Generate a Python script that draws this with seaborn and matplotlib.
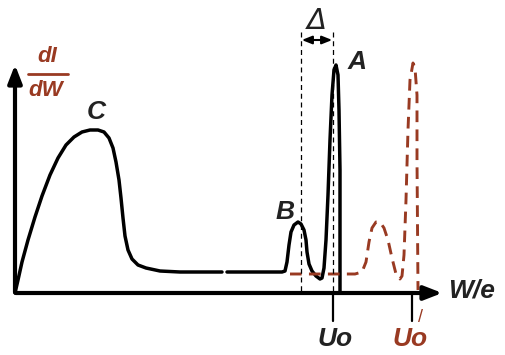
import pandas as pd
import matplotlib.pyplot as plt
import seaborn as sns

# curve points (x = W/e, y = dI/dW, screen-like units, y grows downwards)
c_x = [15, 18, 22, 28, 35, 42, 50, 58, 66, 74, 82, 90, 98, 104, 109, 113, 116, 119, 121, 123, 125, 128, 132, 138, 146, 160, 180, 200, 222]
c_y = [293, 280, 262, 240, 217, 196, 175, 158, 145, 137, 132, 130, 130, 132, 138, 148, 162, 180, 198, 218, 236, 250, 259, 265, 268, 271, 272, 272, 272]

ab_x = [227, 250, 270, 282, 285, 287, 289, 291, 294, 298, 301, 304, 306, 307, 309, 312, 316, 320, 322, 324, 326, 328, 330, 332, 334, 336, 338, 339, 340, 340]
ab_y = [272, 272, 272, 272, 271, 262, 245, 232, 225, 222, 224, 230, 240, 252, 264, 271, 276, 279, 278, 268, 240, 195, 140, 95, 70, 65, 75, 110, 170, 293]

shift_x = [290, 320, 355, 362, 366, 369, 372, 376, 380, 384, 388, 392, 396, 400, 402, 404, 406, 408, 410, 413, 415, 417, 417, 418]
shift_y = [274, 274, 274, 272, 262, 242, 228, 222, 222, 228, 240, 258, 274, 279, 276, 255, 200, 130, 80, 63, 68, 95, 160, 290]

delta_lines = [301, 333]
tick_pos = [333, 412]

brown = "#993a22"

sns.set_theme(style="white")
fig = plt.figure(figsize=(5.06, 3.55), dpi=100)
ax = fig.add_axes([0, 0, 1, 1])
ax.set_xlim(0, 506)
ax.set_ylim(355, 0)
ax.axis("off")

lw = 2.5
sns.lineplot(x=c_x, y=c_y, sort=False, estimator=None, color="black", linewidth=lw, ax=ax)
sns.lineplot(x=ab_x, y=ab_y, sort=False, estimator=None, color="black", linewidth=lw, ax=ax)
sns.lineplot(x=shift_x, y=shift_y, sort=False, estimator=None, color=brown, linewidth=2.1,
             linestyle=(0, (4, 2.5)), ax=ax)

# axes with arrows
ax.annotate("", xy=(15, 62), xytext=(15, 295),
            arrowprops=dict(arrowstyle="-|>,head_length=0.9,head_width=0.35", color="black", lw=3))
ax.annotate("", xy=(445, 293), xytext=(13, 293),
            arrowprops=dict(arrowstyle="-|>,head_length=0.9,head_width=0.35", color="black", lw=3))

# delta markers
for xv in delta_lines:
    ax.plot([xv, xv], [32, 293], color="black", lw=0.9, linestyle=(0, (4, 3)))
ax.annotate("", xy=(299, 40), xytext=(335, 40),
            arrowprops=dict(arrowstyle="<|-|>,head_length=0.5,head_width=0.2", color="black", lw=1.5))
ax.text(317, 21, "Δ", fontsize=21, style="italic", ha="center", va="center", color="#222222")

for xv in tick_pos:
    ax.plot([xv, xv], [293, 321], color="black", lw=1.6)

bold_it = dict(family="Liberation Sans", fontweight="bold", style="italic", fontsize=19)
ax.text(96, 112, "C", ha="center", va="center", color="#222222", **bold_it)
ax.text(285, 212, "B", ha="center", va="center", color="#222222", **bold_it)
ax.text(357, 62, "A", ha="center", va="center", color="#222222", **bold_it)
ax.text(472, 291, "W/e", ha="center", va="center", color="#222222", **bold_it)
ax.text(335, 339, "Uo", ha="center", va="center", color="#222222", **bold_it)
ax.text(410, 339, "Uo", ha="center", va="center", color=brown, **bold_it)
ax.text(421, 318, "/", ha="center", va="center", color=brown, family="Liberation Sans", fontsize=13)

frac = dict(family="Liberation Sans", fontweight="bold", style="italic", fontsize=16, color=brown)
ax.text(47, 57, "dI", ha="center", va="center", **frac)
ax.plot([28, 68], [74, 74], color=brown, lw=2)
ax.text(46, 90, "dW", ha="center", va="center", **frac)

fig.savefig("out.png", dpi=100)
